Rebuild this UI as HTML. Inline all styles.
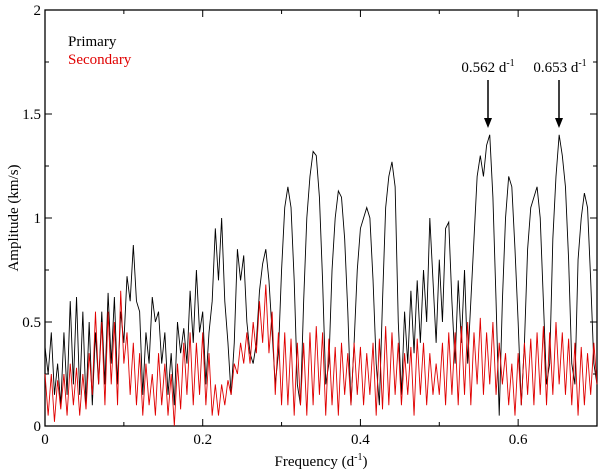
<!DOCTYPE html>
<html><head><meta charset="utf-8"><style>
body{margin:0;background:#fff}
svg text{font-family:"Liberation Serif",serif;}
</style></head><body>
<svg id="chart" width="600" height="470" xmlns="http://www.w3.org/2000/svg">
<g id="axes"></g>
<g id="series"></g>
<text x="0" y="0" font-size="15" text-anchor="middle" transform="translate(18,218) rotate(-90)">Amplitude (km/s)</text>
<text x="321" y="466" font-size="15" text-anchor="middle">Frequency (d<tspan dy="-6" font-size="10">-1</tspan><tspan dy="6">)</tspan></text>
<text x="68" y="46" font-size="15" fill="#000">Primary</text>
<text x="68" y="64" font-size="15" fill="#e00000">Secondary</text>
<text x="488" y="72" font-size="15" text-anchor="middle">0.562 d<tspan dy="-6" font-size="10">-1</tspan></text>
<text x="560" y="72" font-size="15" text-anchor="middle">0.653 d<tspan dy="-6" font-size="10">-1</tspan></text>
<g><line x1="488" y1="80" x2="488" y2="124" stroke="#000" stroke-width="1.5"/><path d="M484,118 L488,128 L492,118 Z" fill="#000"/></g>
<g><line x1="559" y1="80" x2="559" y2="124" stroke="#000" stroke-width="1.5"/><path d="M555,118 L559,128 L563,118 Z" fill="#000"/></g>
</svg>
<script>
const freqStep = 0.004;
const primaryAmp = [.38,.25,.45,.15,.30,.10,.45,.15,.60,.20,
.62,.15,.55,.10,.50,.10,.45,.20,.55,.20,
.64,.30,.62,.20,.55,.40,.72,.60,.87,.60,
.55,.15,.45,.30,.62,.50,.55,.30,.45,.15,
.35,.10,.50,.35,.47,.30,.65,.40,.75,.45,
.55,.20,.45,.60,.95,.70,1.0,.60,.40,.15,
.40,.85,.70,.82,.50,.35,.30,.40,.65,.78,
.85,.70,.45,.20,.35,.75,1.05,1.15,1.05,.70,
.20,.10,.60,1.0,1.2,1.32,1.3,1.1,.70,.20,
.30,.75,1.0,1.13,1.1,.90,.55,.10,.40,.75,
.95,1.0,1.05,1.0,.70,.30,.10,.60,1.05,1.2,
1.27,1.15,.50,.15,.55,.30,.65,.35,.70,.40,
.75,.50,1.0,.70,.40,.80,.50,.95,.98,.60,
.30,.70,.40,.75,.30,.60,.90,1.2,1.3,1.2,
1.35,1.4,1.1,.60,.05,.60,1.0,1.2,1.15,.85,
.50,.10,.40,.85,1.05,1.1,1.15,1.0,.60,.20,
.30,.90,1.2,1.4,1.3,1.15,.80,.30,.20,.80,
1.0,1.12,1.05,.70,.30,.20];
const secondaryAmp = [.25,.05,.25,.02,.22,.08,.25,.05,.30,.10,
.28,.05,.25,.08,.35,.15,.55,.20,.50,.10,
.55,.20,.50,.10,.65,.30,.45,.15,.40,.10,
.35,.05,.30,.10,.25,.05,.35,.10,.30,.05,
.25,.00,.30,.08,.40,.15,.45,.10,.40,.15,
.45,.10,.35,.05,.20,.05,.20,.10,.22,.15,
.30,.25,.40,.30,.45,.30,.50,.35,.60,.40,
.68,.35,.55,.15,.45,.10,.45,.10,.42,.05,
.40,.10,.40,.05,.45,.10,.48,.15,.45,.05,
.42,.10,.38,.05,.40,.15,.35,.10,.40,.15,
.38,.10,.35,.15,.40,.05,.42,.08,.48,.10,
.45,.15,.40,.10,.35,.15,.38,.05,.42,.15,
.40,.10,.35,.15,.30,.15,.40,.10,.45,.15,
.45,.10,.48,.15,.50,.10,.45,.20,.52,.15,
.45,.20,.50,.15,.40,.20,.35,.10,.30,.05,
.35,.10,.40,.15,.42,.10,.45,.15,.48,.10,
.45,.15,.50,.20,.45,.15,.42,.10,.40,.05,
.38,.10,.35,.15,.40,.20];
const xTicks = [0,0.2,0.4,0.6];
const xTickLabels = ["0","0.2","0.4","0.6"];
const yTicks = [0,0.5,1,1.5,2];
const yTickLabels = ["0","0.5","1","1.5","2"];

const X0=45,X1=597,Y0=426,Y1=10,XMAX=0.7,YMAX=2;
const sx=f=>X0+f/XMAX*(X1-X0);
const sy=a=>Y0-a/YMAX*(Y0-Y1);
const NS="http://www.w3.org/2000/svg";
const axes=document.getElementById('axes');
const series=document.getElementById('series');
function mk(tag,attrs,parent){const e=document.createElementNS(NS,tag);for(const k in attrs)e.setAttribute(k,attrs[k]);parent.appendChild(e);return e;}

const frame=mk('rect',{x:X0,y:Y1,width:X1-X0,height:Y0-Y1,fill:'none',stroke:'#000','stroke-width':1.3},axes);


for(let f=0;f<=0.7001;f+=0.1){
  const major=Math.abs(f/0.2-Math.round(f/0.2))<1e-6;const L=major?7:4;
  const t=mk('path',{d:`M${sx(f)},${Y0}v${-L}M${sx(f)},${Y1}v${L}`,stroke:'#000','stroke-width':1},axes);
  
  
}
for(let a=0;a<=2.0001;a+=0.25){
  const major=Math.abs(a/0.5-Math.round(a/0.5))<1e-6;const L=major?7:4;
  const t=mk('path',{d:`M${X0},${sy(a)}h${L}M${X1},${sy(a)}h${-L}`,stroke:'#000','stroke-width':1},axes);
  
  
}
xTicks.forEach((v,i)=>{const t=mk('text',{x:sx(v),y:Y0+18,'font-size':15,'text-anchor':'middle'},axes);t.textContent=xTickLabels[i];
  
  });
yTicks.forEach((v,i)=>{const t=mk('text',{x:X0-4,y:sy(v)+5,'font-size':15,'text-anchor':'end'},axes);t.textContent=yTickLabels[i];
  
  });

function line(vals,color,name){
  const d=vals.map((v,i)=>(i?'L':'M')+sx(i*freqStep).toFixed(2)+','+sy(v).toFixed(2)).join('');
  const p=mk('path',{d:d,fill:'none',stroke:color,'stroke-width':0.9},series);
  
  
}
line(primaryAmp,'#000','primary-series');
line(secondaryAmp,'#e00000','secondary-series');
</script>
</body></html>
